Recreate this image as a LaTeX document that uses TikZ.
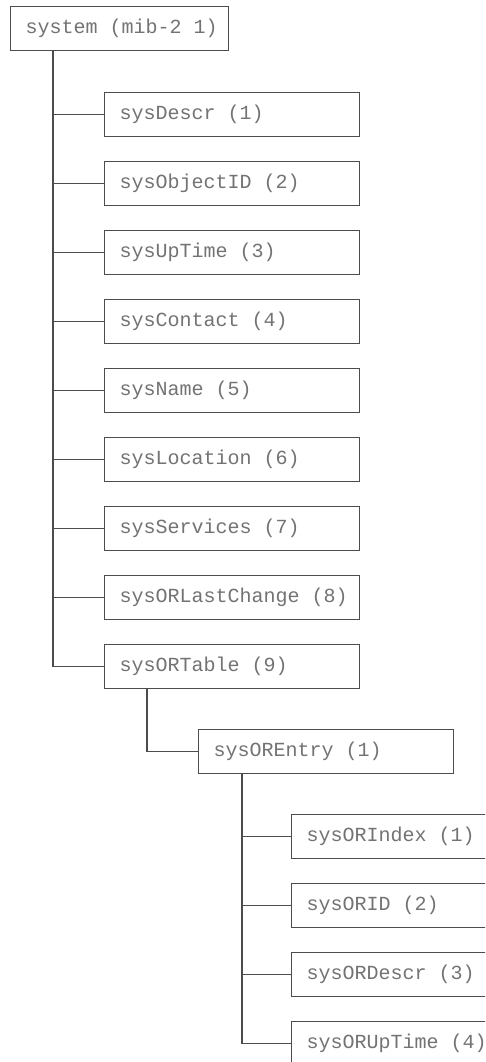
\documentclass[tikz,border=0pt]{standalone}
\usepackage{fontspec}
\setmonofont{Liberation Mono}
\newcommand{\gp}{\hspace*{0.6em}}
\begin{document}
\begin{tikzpicture}[x=1pt,y=-1pt,
  box/.style={draw=black!70, line width=1.1pt, rectangle, anchor=north west,
    minimum height=44pt, text width=225pt, inner xsep=15pt, inner ysep=0pt, align=left,
    font=\ttfamily\fontsize{20}{22}\selectfont, text=black!55},
  conn/.style={draw=black!70, line width=1.1pt}]
\useasboundingbox (0,0) rectangle (485,1062);
\clip (0,0) rectangle (485,1062);
\fill[white] (0,0) rectangle (485,1062);
\node[box, text width=188pt] (root) at (10,6) {system\gp(mib-2\gp1)};
\node[box] (d1) at (104,92) {sysDescr\gp(1)};
\node[box] (d2) at (104,161) {sysObjectID\gp(2)};
\node[box] (d3) at (104,230) {sysUpTime\gp(3)};
\node[box] (d4) at (104,299) {sysContact\gp(4)};
\node[box] (d5) at (104,368) {sysName\gp(5)};
\node[box] (d6) at (104,437) {sysLocation\gp(6)};
\node[box] (d7) at (104,506) {sysServices\gp(7)};
\node[box] (d8) at (104,575) {sysORLastChange\gp(8)};
\node[box] (d9) at (104,644) {sysORTable\gp(9)};
\node[box] (e) at (198,729) {sysOREntry\gp(1)};
\node[box] (f1) at (291,814) {sysORIndex\gp(1)};
\node[box] (f2) at (291,883) {sysORID\gp(2)};
\node[box] (f3) at (291,952) {sysORDescr\gp(3)};
\node[box] (f4) at (291,1021) {sysORUpTime\gp(4)};
\path (root.south west) ++(43,0) coordinate (t1);
\path (d9.south west) ++(43,0) coordinate (t2);
\path (e.south west) ++(44,0) coordinate (t3);
\draw[conn] (t1) |- (d9.west);
\foreach \i in {1,...,8} \draw[conn] (d\i.west) -- (d\i.west -| t1);
\draw[conn] (t2) |- (e.west);
\draw[conn] (t3) |- (f4.west);
\foreach \i in {1,2,3} \draw[conn] (f\i.west) -- (f\i.west -| t3);
\end{tikzpicture}
\end{document}
